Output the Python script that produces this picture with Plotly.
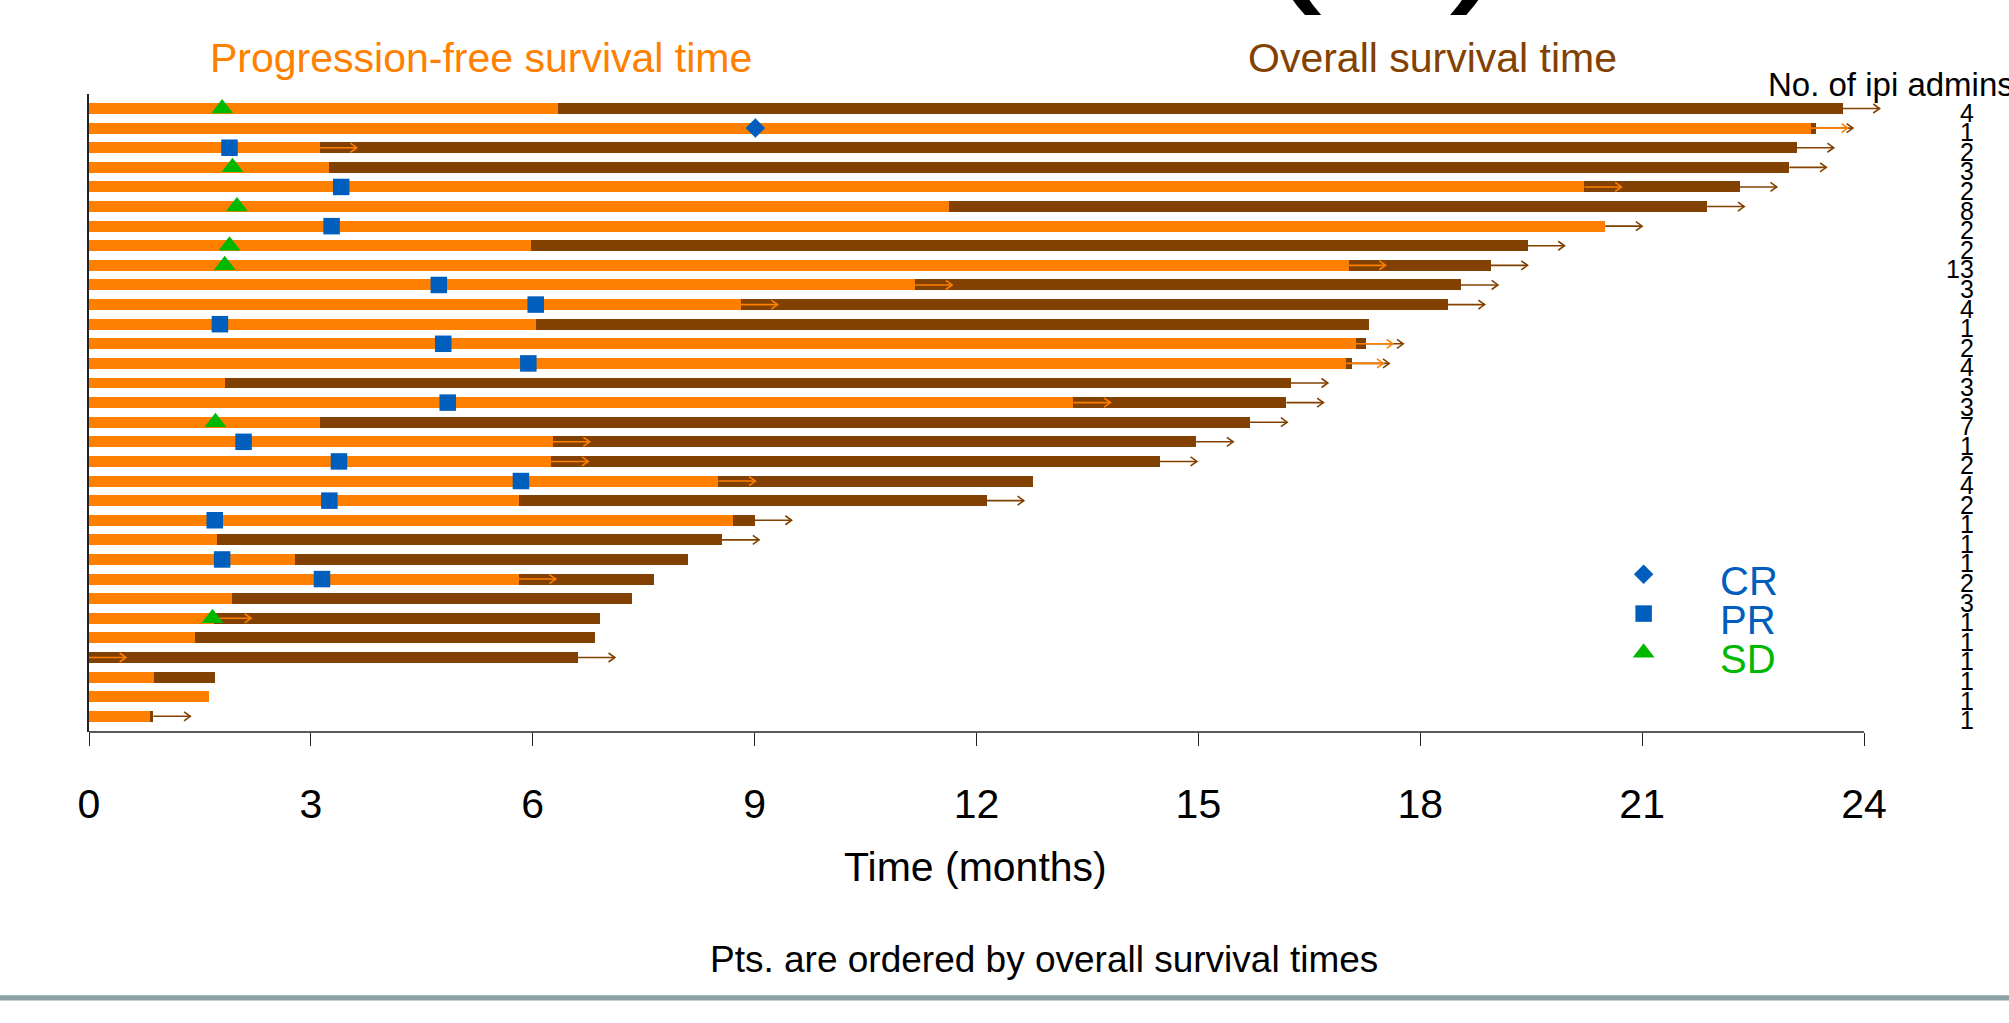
import plotly.graph_objects as go

# ---- patient data (one row per patient, ordered by overall survival) ----
patients = list(range(1, 33))
pfs_months = [6.34, 23.28, 3.12, 3.25, 20.22, 11.63, 20.50, 5.98, 17.03, 11.17,
              8.81, 6.04, 17.13, 17.00, 1.84, 13.31, 3.12, 6.27, 6.25, 8.51,
              5.81, 8.71, 1.73, 2.78, 5.81, 1.93, 1.69, 1.43, 0.0, 0.88,
              1.62, 0.82]
os_months = [23.71, 23.35, 23.09, 22.99, 22.32, 21.88, 20.50, 19.45, 18.95, 18.55,
             18.37, 17.31, 17.27, 17.08, 16.25, 16.19, 15.70, 14.97, 14.48, 12.77,
             12.14, 9.00, 8.56, 8.10, 7.64, 7.34, 6.91, 6.84, 6.61, 1.71,
             1.62, 0.87]
# 1 = still progression-free / alive at last follow-up (drawn with an arrow)
pfs_ongoing = [0, 1, 1, 0, 1, 0, 0, 0, 1, 1, 1, 0, 1, 1, 0, 1, 0, 1, 1, 1,
               0, 0, 0, 0, 1, 0, 1, 0, 1, 0, 0, 0]
os_ongoing = [1, 1, 1, 1, 1, 1, 1, 1, 1, 1, 1, 0, 1, 1, 1, 1, 1, 1, 1, 0,
              1, 1, 1, 0, 0, 0, 0, 0, 1, 0, 0, 1]
best_response = ["SD", "CR", "PR", "SD", "PR", "SD", "PR", "SD", "SD", "PR",
                 "PR", "PR", "PR", "PR", None, "PR", "SD", "PR", "PR", "PR",
                 "PR", "PR", None, "PR", "PR", None, "SD", None, None, None,
                 None, None]
response_months = [1.80, 9.01, 1.90, 1.94, 3.41, 2.00, 3.28, 1.90, 1.835, 4.73,
                   6.04, 1.77, 4.79, 5.94, None, 4.85, 1.71, 2.09, 3.38, 5.84,
                   3.25, 1.70, None, 1.80, 3.15, None, 1.67, None, None, None,
                   None, None]
ipi_admins = [4, 1, 2, 3, 2, 8, 2, 2, 13, 3, 4, 1, 2, 4, 3, 3, 7, 1, 2, 4,
              2, 1, 1, 1, 2, 3, 1, 1, 1, 1, 1, 1]
x_ticks = [0, 3, 6, 9, 12, 15, 18, 21, 24]
response_types = ["CR", "PR", "SD"]

# ---- styling ----
FONT = "Liberation Sans, Arial, Helvetica, sans-serif"
ORANGE = "#FF7F00"
BROWN = "#824100"
BLUE = "#005EBD"
GREEN = "#00B800"
AXIS_COLOR = "#222222"
SYMBOL = {"CR": "diamond", "PR": "square", "SD": "triangle-up"}
SYM_SIZE = {"CR": 15, "PR": 16.5, "SD": 19}
SYM_COLOR = {"CR": BLUE, "PR": BLUE, "SD": GREEN}
BAR_W = 0.56
ARROW_LEN = 0.5      # months
HEAD_LEN = 0.085     # months
HEAD_HALF = 0.23     # rows

# Time axis is 0-24 months; the plotting area runs a little further to the
# right so that follow-up arrows past 24 months are not clipped.
X_AXIS_END = 24
X_VIEW_END = 25
W, H = 2009, 1023
ML, MT, MB = 89, 94, 291
PX_PER_MONTH = 1775 / X_AXIS_END
MR = W - ML - X_VIEW_END * PX_PER_MONTH
PW, PH = W - ML - MR, H - MT - MB


def px(xp):
    return (xp - ML) / PW


def py(yp):
    return (H - MB - yp) / PH


fig = go.Figure()

# overall survival (brown) underneath, progression-free survival (orange) on top
fig.add_trace(go.Bar(x=os_months, y=patients, orientation="h", width=BAR_W,
                     marker=dict(color=BROWN, line=dict(width=0)),
                     showlegend=False, hoverinfo="skip"))
fig.add_trace(go.Bar(x=pfs_months, y=patients, orientation="h", width=BAR_W,
                     marker=dict(color=ORANGE, line=dict(width=0)),
                     showlegend=False, hoverinfo="skip"))


def arrow_path(starts, flags):
    xs, ys = [], []
    for row, x0, f in zip(patients, starts, flags):
        if not f:
            continue
        x1 = x0 + ARROW_LEN
        xs += [x0, x1, None, x1 - HEAD_LEN, x1, x1 - HEAD_LEN, None]
        ys += [row, row, None, row - HEAD_HALF, row, row + HEAD_HALF, None]
    return xs, ys


for starts, flags, col in [(os_months, os_ongoing, BROWN),
                           (pfs_months, pfs_ongoing, ORANGE)]:
    ax, ay = arrow_path(starts, flags)
    fig.add_trace(go.Scatter(x=ax, y=ay, mode="lines",
                             line=dict(color=col, width=1.6),
                             showlegend=False, hoverinfo="skip"))

# best response markers
for rtype in response_types:
    xs = [t for r, t in zip(best_response, response_months) if r == rtype]
    ys = [p for p, r in zip(patients, best_response) if r == rtype]
    fig.add_trace(go.Scatter(x=xs, y=ys, mode="markers",
                             marker=dict(symbol=SYMBOL[rtype], size=SYM_SIZE[rtype],
                                         color=SYM_COLOR[rtype], opacity=1,
                                         line=dict(width=0)),
                             showlegend=False, hoverinfo="skip"))

# response key
KEY_X, KEY_Y0, KEY_STEP, KEY_TEXT_X, KEY_TEXT_DY = 21.02, 24.76, 2.0, 22.03, 0.34
annotations = []
for i, r in enumerate(response_types):
    fig.add_trace(go.Scatter(x=[KEY_X], y=[KEY_Y0 + i * KEY_STEP], mode="markers",
                             marker=dict(symbol=SYMBOL[r], size=SYM_SIZE[r],
                                         color=SYM_COLOR[r], opacity=1,
                                         line=dict(width=0)),
                             showlegend=False, hoverinfo="skip"))
    annotations.append(dict(x=KEY_TEXT_X, y=KEY_Y0 + i * KEY_STEP + KEY_TEXT_DY,
                            xref="x", yref="y", text=r, showarrow=False,
                            xanchor="left", yanchor="middle",
                            font=dict(family=FONT, size=40, color=SYM_COLOR[r])))

# number of ipilimumab administrations per patient
for row, n in zip(patients, ipi_admins):
    annotations.append(dict(x=px(1976), y=row, xref="paper", yref="y", text=str(n),
                            showarrow=False, xanchor="right", yanchor="middle",
                            yshift=-4, font=dict(family=FONT, size=25, color="black")))

annotations += [
    dict(x=px(480.5), y=py(58), xref="paper", yref="paper",
         text="Progression-free survival time", showarrow=False,
         xanchor="center", yanchor="middle",
         font=dict(family=FONT, size=41, color=ORANGE)),
    dict(x=px(1432), y=py(58), xref="paper", yref="paper",
         text="Overall survival time", showarrow=False,
         xanchor="center", yanchor="middle",
         font=dict(family=FONT, size=41, color=BROWN)),
    dict(x=px(1766), y=py(84), xref="paper", yref="paper",
         text="No. of ipi admins", showarrow=False,
         xanchor="left", yanchor="middle",
         font=dict(family=FONT, size=33, color="black")),
    dict(x=px(975), y=py(867), xref="paper", yref="paper",
         text="Time (months)", showarrow=False,
         xanchor="center", yanchor="middle",
         font=dict(family=FONT, size=41, color="black")),
    dict(x=px(1044), y=py(960), xref="paper", yref="paper",
         text="Pts. are ordered by overall survival times", showarrow=False,
         xanchor="center", yanchor="middle",
         font=dict(family=FONT, size=37, color="black")),
    dict(x=px(1385), y=py(-90), xref="paper", yref="paper",
         text="(B)", showarrow=False,
         xanchor="center", yanchor="middle",
         font=dict(family=FONT, size=190, color="black")),
]

shapes = [
    # time axis line, drawn only over 0-24 months
    dict(type="line", xref="paper", yref="paper",
         x0=0, x1=X_AXIS_END / X_VIEW_END, y0=0, y1=0,
         line=dict(color=AXIS_COLOR, width=1.6), layer="above"),
    # rule at the foot of the panel
    dict(type="rect", xref="paper", yref="paper",
         x0=px(0), x1=px(W), y0=py(1000.5), y1=py(995.3),
         fillcolor="#8DA3A6", line=dict(width=0), layer="above"),
]

fig.update_layout(
    width=W, height=H,
    margin=dict(l=ML, r=MR, t=MT, b=MB, pad=0),
    paper_bgcolor="white", plot_bgcolor="white",
    barmode="overlay", bargap=0,
    font=dict(family=FONT, color="black"),
    annotations=annotations, shapes=shapes,
    xaxis=dict(range=[0, X_VIEW_END], tickvals=x_ticks,
               ticktext=[str(t) for t in x_ticks],
               showline=False,
               ticks="outside", ticklen=13, tickwidth=1.3, tickcolor=AXIS_COLOR,
               tickfont=dict(family=FONT, size=41, color="black"),
               ticklabelstandoff=23,
               showgrid=False, zeroline=False, fixedrange=True),
    yaxis=dict(range=[32.80, 0.26], showline=True, linecolor=AXIS_COLOR, linewidth=1.6,
               showticklabels=False, ticks="", showgrid=False, zeroline=False,
               fixedrange=True),
)

fig.write_html("out.html")
